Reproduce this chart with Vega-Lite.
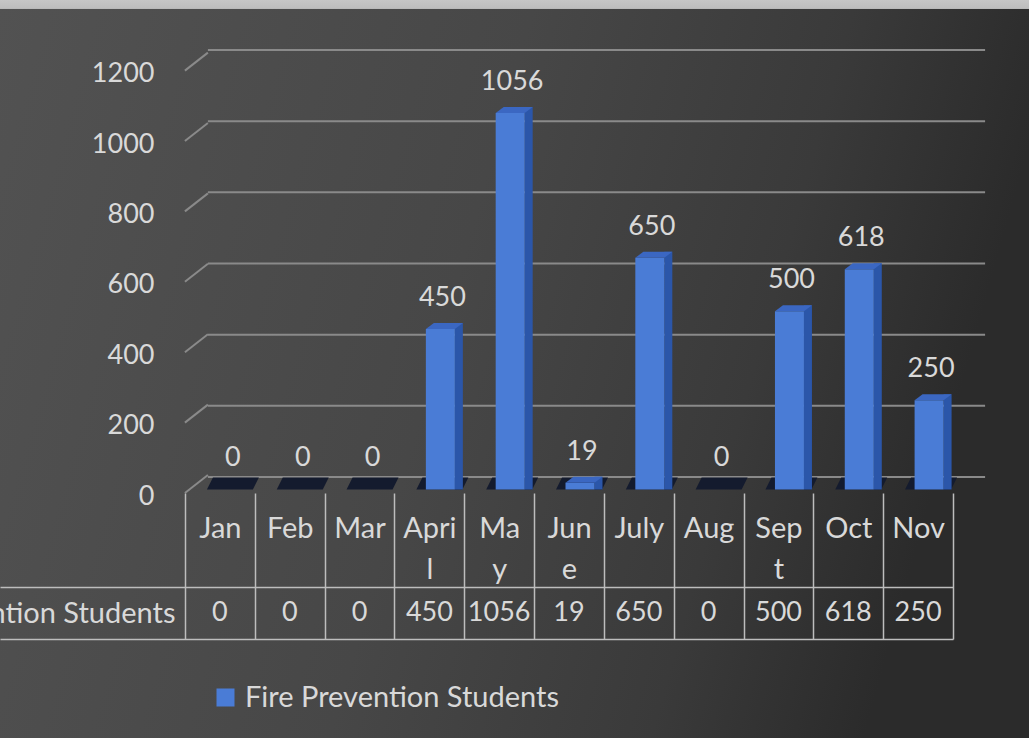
{
  "$schema": "https://vega.github.io/schema/vega-lite/v6.json",
  "width": 1029,
  "height": 738,
  "autosize": {"type": "none"},
  "padding": 0,
  "background": "#404040",
  "config": {
    "view": {"stroke": null},
    "font": "Lato",
    "axis": {"labelFont": "Lato", "zindex": 1},
    "legend": {"labelFont": "Lato"}
  },
  "datasets": {
    "monthly": [
      {"month": "Jan", "students": 0},
      {"month": "Feb", "students": 0},
      {"month": "Mar", "students": 0},
      {"month": "April", "students": 450},
      {"month": "May", "students": 1056},
      {"month": "June", "students": 19},
      {"month": "July", "students": 650},
      {"month": "Aug", "students": 0},
      {"month": "Sept", "students": 500},
      {"month": "Oct", "students": 618},
      {"month": "Nov", "students": 250}
    ],
    "ticks": [{"v": 0}, {"v": 200}, {"v": 400}, {"v": 600}, {"v": 800}, {"v": 1000}, {"v": 1200}]
  },
  "resolve": {"scale": {"y": "independent"}},
  "layer": [
    {
      "data": {"values": [{}]},
      "mark": {
        "type": "rect",
        "strokeWidth": 0,
        "fill": {
          "gradient": "linear", "x1": 0, "y1": 0, "x2": 1, "y2": 0.2,
          "stops": [
            {"offset": 0, "color": "#525252"},
            {"offset": 0.5, "color": "#474747"},
            {"offset": 0.8, "color": "#3a3a3a"},
            {"offset": 1, "color": "#2b2b2b"}
          ]
        }
      },
      "encoding": {}
    },
    {
      "data": {"values": [{}]},
      "mark": {
        "type": "rect",
        "strokeWidth": 0,
        "fill": {
          "gradient": "linear", "x1": 0, "y1": 0, "x2": 0, "y2": 1,
          "stops": [
            {"offset": 0, "color": "#c6c6c6"},
            {"offset": 0.0115, "color": "#bdbdbd"},
            {"offset": 0.0125, "color": "rgba(64,64,64,0)"},
            {"offset": 1, "color": "rgba(64,64,64,0)"}
          ]
        }
      },
      "encoding": {}
    },
    {
      "data": {"name": "ticks"},
      "mark": {"type": "rule", "color": "#8a8a8a", "strokeWidth": 2, "xOffset": -12, "x2Offset": 67},
      "encoding": {
        "x": {"datum": "Jan", "type": "nominal",
              "scale": {"domain": ["Jan","Feb","Mar","April","May","June","July","Aug","Sept","Oct","Nov"], "range": [185, 953], "paddingInner": 0, "paddingOuter": 0}},
        "x2": {"datum": "Nov"},
        "y": {"field": "v", "type": "quantitative",
              "scale": {"domain": [-733.6, 1340.6], "nice": false, "zero": false}, "axis": null}
      }
    },
    {
      "data": {"name": "ticks"},
      "mark": {"type": "rule", "color": "#8a8a8a", "strokeWidth": 2, "xOffset": -35, "x2Offset": -12, "y2Offset": -18},
      "encoding": {
        "x": {"datum": "Jan", "type": "nominal",
              "scale": {"domain": ["Jan","Feb","Mar","April","May","June","July","Aug","Sept","Oct","Nov"], "range": [185, 953], "paddingInner": 0, "paddingOuter": 0}},
        "x2": {"datum": "Jan"},
        "y": {"field": "v", "type": "quantitative",
              "scale": {"domain": [-696.0, 1400.6], "nice": false, "zero": false},
              "axis": {"orient": "left", "offset": -154, "values": [0, 200, 400, 600, 800, 1000, 1200], "format": "d",
                       "title": null, "domain": false, "ticks": false, "tickSize": 0, "grid": false, "zindex": 1,
                       "labelPadding": 0, "labelFontSize": 27, "labelColor": "#d9d9d9", "labelBaseline": "middle", "labelOffset": 3}},
        "y2": {"field": "v"}
      }
    },
    {
      "data": {"name": "monthly"},
      "layer": [
        {
          "mark": {"type": "point", "shape": "M-0.96,0L0.88,0L1.12,-0.48L-0.72,-0.48Z", "size": 2500,
                   "filled": true, "opacity": 1, "color": "#141b2e", "strokeWidth": 0, "xOffset": 11},
          "encoding": {
            "x": {"field": "month", "type": "nominal",
                  "scale": {"domain": ["Jan","Feb","Mar","April","May","June","July","Aug","Sept","Oct","Nov"], "range": [185, 953], "paddingInner": 0, "paddingOuter": 0}},
            "y": {"datum": 0, "type": "quantitative",
                  "scale": {"domain": [-697.2, 1373.2], "nice": false, "zero": false}, "axis": null}
          }
        },
        {
          "transform": [{"filter": "datum.students > 0"}],
          "mark": {"type": "bar", "width": 8, "xOffset": 29.5, "yOffset": -6, "color": "#2b56a9"},
          "encoding": {
            "x": {"field": "month", "type": "nominal",
                  "scale": {"domain": ["Jan","Feb","Mar","April","May","June","July","Aug","Sept","Oct","Nov"], "range": [185, 953], "paddingInner": 0, "paddingOuter": 0}},
            "y": {"field": "students", "type": "quantitative",
                  "scale": {"domain": [-697.2, 1373.2], "nice": false, "zero": false}, "axis": null},
            "y2": {"datum": 0}
          }
        },
        {
          "transform": [{"filter": "datum.students > 0"}],
          "mark": {"type": "bar", "width": 29, "xOffset": 11, "opacity": 1},
          "encoding": {
            "x": {"field": "month", "type": "nominal",
                  "scale": {"domain": ["Jan","Feb","Mar","April","May","June","July","Aug","Sept","Oct","Nov"], "range": [185, 953], "paddingInner": 0, "paddingOuter": 0}},
            "y": {"field": "students", "type": "quantitative",
                  "scale": {"domain": [-697.2, 1373.2], "nice": false, "zero": false}, "axis": null},
            "y2": {"datum": 0},
            "color": {"datum": "Fire Prevention Students", "type": "nominal",
                      "scale": {"range": ["#4a7cd6"]},
                      "legend": {"orient": "none", "legendX": 211, "legendY": 683, "title": null, "padding": 0,
                                 "symbolType": "square", "symbolSize": 324, "symbolStrokeWidth": 0,
                                 "labelFontSize": 29, "labelColor": "#d9d9d9", "labelOffset": 5, "labelLimit": 600}}
          }
        },
        {
          "transform": [{"filter": "datum.students > 0"}],
          "mark": {"type": "point", "shape": "M-0.58,0L0.58,0L0.9,-0.24L-0.26,-0.24Z", "size": 2500,
                   "filled": true, "opacity": 1, "color": "#3b67c2", "strokeWidth": 0, "xOffset": 11},
          "encoding": {
            "x": {"field": "month", "type": "nominal",
                  "scale": {"domain": ["Jan","Feb","Mar","April","May","June","July","Aug","Sept","Oct","Nov"], "range": [185, 953], "paddingInner": 0, "paddingOuter": 0}},
            "y": {"field": "students", "type": "quantitative",
                  "scale": {"domain": [-697.2, 1373.2], "nice": false, "zero": false}, "axis": null}
          }
        },
        {
          "mark": {"type": "text", "fontSize": 27, "color": "#d9d9d9", "baseline": "middle", "dy": -31, "xOffset": 13},
          "encoding": {
            "x": {"field": "month", "type": "nominal",
                  "scale": {"domain": ["Jan","Feb","Mar","April","May","June","July","Aug","Sept","Oct","Nov"], "range": [185, 953], "paddingInner": 0, "paddingOuter": 0}},
            "y": {"field": "students", "type": "quantitative",
                  "scale": {"domain": [-697.2, 1373.2], "nice": false, "zero": false}, "axis": null},
            "text": {"field": "students", "type": "quantitative", "format": "d"}
          }
        }
      ]
    },
    {
      "data": {"name": "monthly"},
      "mark": {"type": "text", "fontSize": 27, "color": "#d9d9d9", "baseline": "middle"},
      "encoding": {
        "x": {"field": "month", "type": "nominal",
              "scale": {"domain": ["Jan","Feb","Mar","April","May","June","July","Aug","Sept","Oct","Nov"], "range": [185, 953], "paddingInner": 0, "paddingOuter": 0},
              "axis": {"orient": "bottom", "offset": -245, "title": null, "domain": false, "grid": false, "zindex": 1,
                       "ticks": true, "tickBand": "extent", "tickSize": 146, "tickColor": "#bdbdbd", "tickWidth": 1.5,
                       "labelAngle": 0, "labelAlign": "center", "labelFontSize": 29, "labelColor": "#d9d9d9", "labelBaseline": "alphabetic",
                       "labelPadding": -102, "labelLineHeight": 41, "labelOverlap": false,
                       "labelExpr": "datum.label == 'April' ? ['Apri', 'l'] : datum.label == 'May' ? ['Ma', 'y'] : datum.label == 'June' ? ['Jun', 'e'] : datum.label == 'Sept' ? ['Sep', 't'] : datum.label"}},
        "y": {"datum": "Fire Prevention Students", "type": "nominal",
              "scale": {"range": [587, 639], "paddingInner": 0, "paddingOuter": 0},
              "axis": {"orient": "left", "offset": 0, "title": null, "domain": false, "grid": false, "zindex": 1,
                       "ticks": true, "tickBand": "extent", "tickSize": -953, "tickColor": "#bdbdbd", "tickWidth": 1.5,
                       "labelFontSize": 29, "labelColor": "#d9d9d9", "labelAlign": "right", "labelBaseline": "middle",
                       "labelPadding": 778, "labelLimit": 600}},
        "text": {"field": "students", "type": "quantitative", "format": "d"}
      }
    }
  ]
}
